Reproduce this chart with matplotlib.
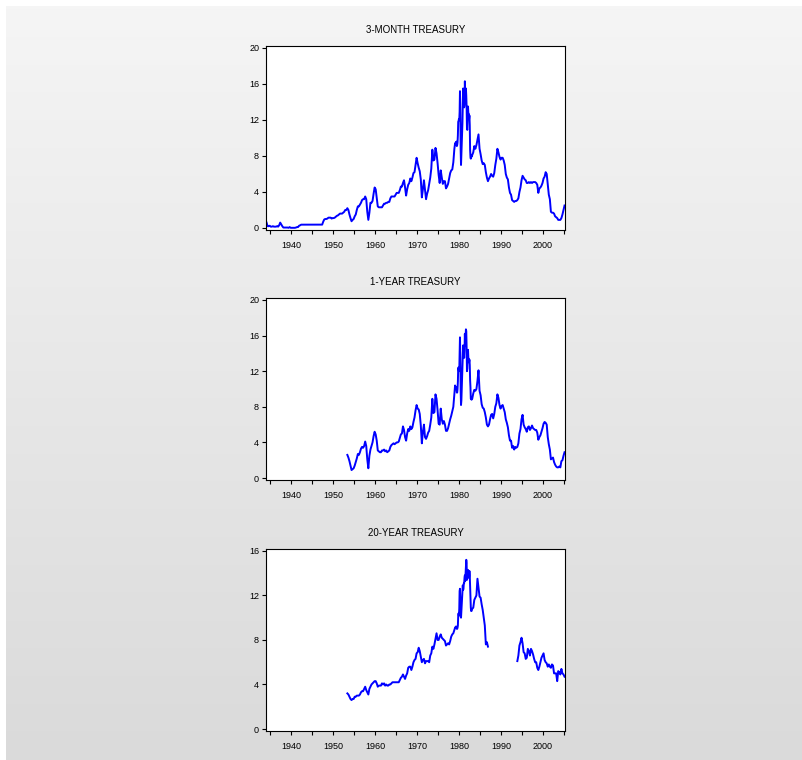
import numpy as np
import matplotlib.pyplot as plt
from matplotlib.ticker import MultipleLocator

# 3-month T-bill: quarterly 1934-1978, monthly 1979-1982, quarterly 1983-2005Q1
tb3_q_early = [0.6, 0.2, 0.2, 0.25, 0.15, 0.15, 0.2, 0.15, 0.15, 0.15, 0.2, 0.15,
               0.3, 0.6, 0.4, 0.2, 0.05, 0.05, 0.05, 0.05, 0.05, 0.02, 0.1, 0.02,
               0.02, 0.02, 0.03, 0.02, 0.05, 0.1, 0.1, 0.25, 0.3, 0.37, 0.37, 0.37,
               0.375, 0.375, 0.375, 0.375, 0.375, 0.375, 0.375, 0.375,
               0.375, 0.375, 0.375, 0.375, 0.375, 0.375, 0.375, 0.375,
               0.375, 0.375, 0.7, 0.95, 1.0, 1.0, 1.05, 1.15, 1.15, 1.15, 1.05, 1.1,
               1.1, 1.15, 1.25, 1.35, 1.4, 1.5, 1.6, 1.6, 1.6, 1.7, 1.8, 2.0,
               2.0, 2.2, 2.0, 1.5, 1.1, 0.75, 0.9, 1.0, 1.3, 1.5, 2.0, 2.4,
               2.4, 2.6, 2.8, 3.1, 3.2, 3.2, 3.5, 3.2, 1.8, 0.9, 1.7, 2.8,
               2.8, 3.0, 3.8, 4.5, 4.3, 3.3, 2.4, 2.3, 2.3, 2.3, 2.3, 2.5,
               2.7, 2.7, 2.8, 2.8, 2.9, 2.9, 3.3, 3.5, 3.5, 3.5, 3.5, 3.7,
               3.9, 3.9, 3.9, 4.2, 4.6, 4.6, 5.0, 5.3, 4.5, 3.6, 4.3, 4.8,
               5.0, 5.5, 5.2, 5.6, 6.1, 6.2, 7.0, 7.8, 7.2, 6.7, 6.3, 5.4,
               3.4, 4.3, 5.3, 4.2, 3.2, 3.8, 4.2, 4.9, 5.6, 6.6, 8.7, 7.5,
               7.6, 8.9, 8.3, 7.2, 5.9, 5.0, 6.4, 5.6, 4.9, 5.2, 5.2, 4.4,
               4.6, 4.9, 5.5, 6.1, 6.4, 6.5, 7.3, 8.8]
tb3_m = [9.4, 9.3, 9.5, 9.5, 9.6, 9.1, 9.2, 9.5, 10.3, 11.8, 11.9, 12.1,
         12.0, 12.9, 15.2, 13.2, 8.6, 7.0, 8.1, 9.1, 10.3, 11.6, 13.7, 15.5,
         14.8, 14.9, 13.4, 13.7, 16.3, 14.7, 14.9, 15.5, 14.7, 13.5, 11.0, 10.9,
         12.3, 13.5, 12.7, 12.7, 12.1, 12.5, 11.4, 8.7, 7.9, 7.7, 8.1, 7.9]
tb3_q_late = [8.1, 8.4, 9.1, 8.8, 9.2, 9.8, 10.4, 8.8, 8.2, 7.5, 7.1, 7.2,
              7.0, 6.2, 5.6, 5.2, 5.5, 5.7, 6.0, 5.8, 5.7, 6.1, 7.0, 7.7,
              8.8, 8.4, 7.9, 7.6, 7.8, 7.8, 7.5, 7.0, 6.0, 5.6, 5.4, 4.5,
              3.9, 3.7, 3.1, 3.0, 2.9, 3.0, 3.0, 3.1, 3.3, 4.0, 4.5, 5.3,
              5.8, 5.6, 5.4, 5.3, 5.0, 5.0, 5.1, 5.0, 5.1, 5.0, 5.1, 5.1,
              5.1, 5.0, 4.8, 3.9, 4.4, 4.5, 4.7, 5.0, 5.5, 5.7, 6.2, 6.0,
              4.8, 3.7, 3.2, 1.8, 1.7, 1.7, 1.6, 1.3, 1.2, 1.1, 0.9, 0.9,
              0.9, 1.1, 1.5, 2.0, 2.5]

# 1-year Treasury: quarterly 1953Q2-1978, monthly 1979-1982, quarterly 1983-2005Q1
ty1_q_early = [2.6, 2.3, 1.9, 1.4, 0.9, 1.0, 1.1, 1.4, 1.8, 2.2, 2.7,
               2.6, 2.9, 3.3, 3.5, 3.4, 3.6, 4.1, 3.6, 2.1, 1.1, 2.5, 3.2,
               3.6, 4.0, 4.7, 5.2, 4.9, 4.2, 3.1, 3.0, 2.9, 2.9, 3.1, 3.1,
               3.2, 3.0, 3.1, 2.9, 3.0, 3.1, 3.5, 3.7, 3.8, 3.9, 3.8, 3.9,
               4.0, 4.0, 4.1, 4.5, 4.9, 5.0, 5.8, 5.4, 4.6, 4.2, 5.0, 5.5,
               5.3, 5.8, 5.5, 5.7, 6.3, 6.8, 7.6, 8.2, 7.8, 7.7, 7.2, 5.9,
               3.9, 5.2, 6.0, 4.6, 4.4, 4.7, 5.1, 5.3, 6.0, 6.8, 8.9, 7.3,
               7.4, 9.4, 8.9, 7.6, 6.1, 6.0, 7.8, 6.6, 6.1, 6.4, 6.0, 5.3,
               5.3, 5.6, 6.1, 6.6, 7.0, 7.5, 8.0, 9.4]
ty1_m = [10.4, 10.2, 10.2, 10.0, 10.2, 9.6, 9.6, 10.0, 10.8, 12.4, 12.4, 12.0,
         12.1, 13.9, 15.8, 13.7, 9.8, 8.2, 8.7, 10.0, 11.5, 12.4, 14.1, 14.9,
         14.1, 14.1, 13.5, 14.3, 16.2, 14.9, 15.7, 16.7, 16.5, 14.7, 12.0, 12.3,
         13.6, 14.4, 13.5, 13.4, 13.0, 13.3, 12.7, 11.0, 10.2, 8.9, 8.9, 8.8]
ty1_q_late = [8.9, 9.5, 9.9, 9.8, 10.0, 10.9, 12.1, 9.8, 9.3, 8.3, 7.9, 7.8,
              7.4, 6.8, 6.0, 5.8, 6.0, 6.6, 7.1, 7.2, 6.7, 7.2, 8.0, 8.4,
              9.4, 9.0, 8.2, 7.8, 8.1, 8.2, 7.8, 7.4, 6.6, 6.2, 5.7, 4.8,
              4.2, 4.2, 3.4, 3.6, 3.2, 3.5, 3.4, 3.5, 3.9, 5.0, 5.5, 6.6,
              7.1, 6.0, 5.7, 5.5, 5.2, 5.7, 5.8, 5.4, 5.6, 5.9, 5.6, 5.5,
              5.4, 5.4, 5.1, 4.3, 4.6, 4.8, 5.2, 5.6, 6.1, 6.3, 6.2, 6.0,
              4.6, 3.8, 3.2, 2.1, 2.2, 2.3, 1.8, 1.5, 1.3, 1.2, 1.2, 1.3,
              1.2, 1.9, 2.0, 2.5, 2.9]

# 20-year Treasury: quarterly 1953Q2-1978, monthly 1979-1982, quarterly 1983-1986,
# then a gap until 1993Q4
ty20_q_early = [3.2, 3.1, 2.9, 2.7, 2.6, 2.7, 2.7, 2.9, 2.9, 3.0, 3.0,
                3.0, 3.1, 3.3, 3.4, 3.4, 3.6, 3.8, 3.5, 3.3, 3.1, 3.6, 3.8,
                4.0, 4.1, 4.2, 4.3, 4.3, 4.1, 3.8, 3.9, 3.9, 3.9, 4.1, 4.0,
                4.1, 3.9, 4.0, 3.9, 3.9, 4.0, 4.0, 4.1, 4.2, 4.2, 4.2, 4.2,
                4.2, 4.2, 4.2, 4.4, 4.6, 4.7, 4.9, 4.7, 4.5, 4.8, 5.0, 5.5,
                5.6, 5.6, 5.3, 5.6, 6.0, 6.2, 6.3, 6.8, 6.9, 7.3, 7.0, 6.5,
                6.0, 6.2, 6.3, 5.9, 6.1, 6.1, 6.1, 6.0, 6.6, 6.8, 7.4, 7.2,
                7.6, 8.1, 8.6, 8.0, 8.0, 8.3, 8.5, 8.2, 8.1, 8.0, 7.9, 7.5,
                7.6, 7.7, 7.6, 7.9, 8.3, 8.5, 8.6, 8.9]
ty20_m = [9.1, 9.1, 9.2, 9.2, 9.2, 9.0, 9.0, 9.1, 9.3, 10.2, 10.4, 10.2,
          10.8, 12.4, 12.6, 11.5, 10.1, 10.0, 10.6, 11.3, 11.8, 12.3, 12.9, 12.5,
          12.6, 13.1, 13.1, 13.6, 13.8, 13.3, 14.0, 14.6, 15.2, 14.9, 13.4, 13.6,
          14.2, 14.3, 13.8, 13.6, 13.6, 14.2, 13.8, 12.9, 12.2, 10.9, 10.6, 10.6]
ty20_q_mid = [10.8, 10.9, 11.6, 11.8, 12.0, 13.5, 12.7, 11.9,
              11.8, 11.2, 10.7, 10.0, 9.3, 7.6, 7.8, 7.4]
ty20_q_late = [6.1, 6.6, 7.5, 7.8, 8.2, 7.7, 6.9, 6.8, 6.3,
               6.4, 7.2, 7.0, 6.6, 7.2, 7.0, 6.7, 6.3, 6.0, 6.0, 5.5, 5.3,
               5.6, 6.0, 6.4, 6.6, 6.8, 6.2, 6.0, 5.9, 5.6, 5.8, 5.6, 5.5,
               5.8, 5.7, 5.0, 5.0, 5.0, 4.3, 5.2, 5.1, 4.9, 5.4, 5.0, 4.9, 4.7]


def quarters(start, values):
    return start + 0.25 * np.arange(len(values)) + 0.125


def months(start, values):
    return start + np.arange(len(values)) / 12.0 + 1 / 24.0


def build(pieces):
    xs, ys = [], []
    for i, (x, y) in enumerate(pieces):
        if i > 0 and x[0] - xs[-1][-1] > 1:
            xs.append([np.nan])
            ys.append([np.nan])
        xs.append(x)
        ys.append(y)
    return np.concatenate(xs), np.concatenate(ys)


x3, y3 = build([(quarters(1934, tb3_q_early), tb3_q_early),
                (months(1979, tb3_m), tb3_m),
                (quarters(1983, tb3_q_late), tb3_q_late)])
x1, y1 = build([(quarters(1953.25, ty1_q_early), ty1_q_early),
                (months(1979, ty1_m), ty1_m),
                (quarters(1983, ty1_q_late), ty1_q_late)])
x20, y20 = build([(quarters(1953.25, ty20_q_early), ty20_q_early),
                  (months(1979, ty20_m), ty20_m),
                  (quarters(1983, ty20_q_mid), ty20_q_mid),
                  (quarters(1993.75, ty20_q_late), ty20_q_late)])

panels = [
    ("3-MONTH TREASURY", x3, y3, 20, [0.3313, 0.6974, 0.3724, 0.2421]),
    ("1-YEAR TREASURY", x1, y1, 20, [0.3313, 0.3684, 0.3724, 0.2395]),
    ("20-YEAR TREASURY", x20, y20, 16, [0.3313, 0.0382, 0.3724, 0.2395]),
]

plt.rcParams['font.family'] = ['Liberation Sans', 'DejaVu Sans']

fig = plt.figure(figsize=(8.03, 7.60), dpi=100, facecolor='white')

# grey gradient background panel (light at top, darker at bottom)
bg = fig.add_axes([6 / 803, 0, 797 / 803, 754 / 760], zorder=-10)
shade = np.linspace(0.961, 0.855, 256)
grad = np.dstack([shade, shade, shade]).reshape(256, 1, 3)
bg.imshow(grad, aspect='auto', extent=[0, 1, 0, 1], origin='upper')
bg.set_axis_off()

for title, x, y, ytop, rect in panels:
    ax = fig.add_axes(rect)
    ax.plot(x, y, color='#0000ff', linewidth=1.4)
    ax.set_xlim(1934, 2005.25)
    pad = ytop * 0.011
    ax.set_ylim(-pad, ytop + pad)
    ax.set_title(title, fontsize=7, pad=9)
    ax.xaxis.set_major_locator(MultipleLocator(10))
    ax.xaxis.set_minor_locator(MultipleLocator(5))
    ax.yaxis.set_major_locator(MultipleLocator(4))
    ax.tick_params(axis='both', which='both', direction='out', length=3,
                   width=0.8, labelsize=6.5, pad=2)
    ax.tick_params(axis='x', which='major', pad=5)
    for s in ax.spines.values():
        s.set_linewidth(0.8)
    ax.set_facecolor('white')

fig.savefig('out.png', dpi=100, facecolor=fig.get_facecolor())
